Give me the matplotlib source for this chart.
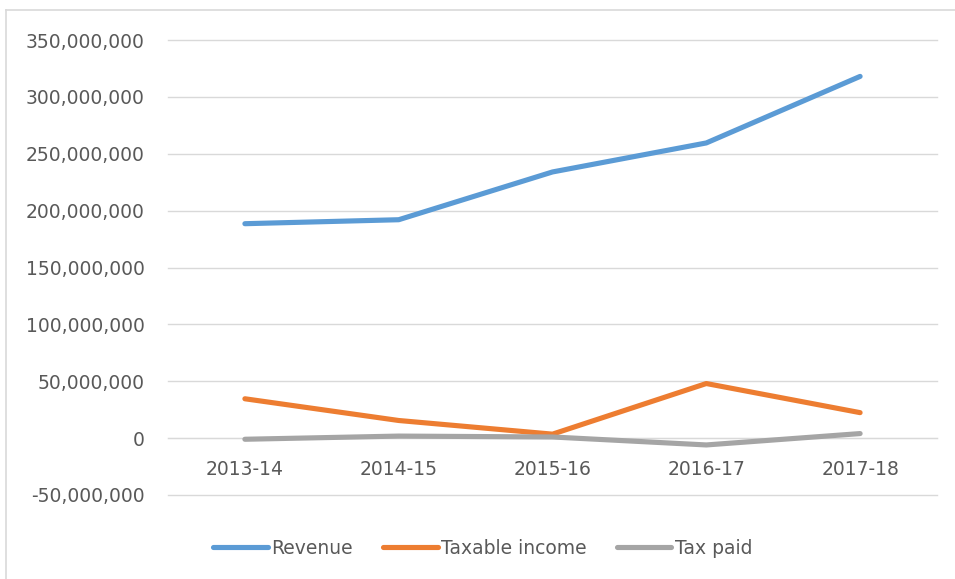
import matplotlib.pyplot as plt
from matplotlib.lines import Line2D
from matplotlib.ticker import FuncFormatter, MultipleLocator

# Values
years = ["2013-14", "2014-15", "2015-16", "2016-17", "2017-18"]
revenue = [188_500_000, 192_000_000, 234_000_000, 259_500_000, 318_000_000]
taxable_income = [34_600_000, 15_500_000, 3_500_000, 48_000_000, 22_400_000]
tax_paid = [-1_000_000, 1_800_000, 1_000_000, -6_000_000, 4_000_000]

series = [
    ("Revenue", revenue, "#5B9BD5"),
    ("Taxable income", taxable_income, "#ED7D31"),
    ("Tax paid", tax_paid, "#A5A5A5"),
]

text_color = "#595959"
grid_color = "#D9D9D9"
plt.rcParams["font.family"] = ["DejaVu Sans"]

fig = plt.figure(figsize=(9.55, 5.79), dpi=100)
ax = fig.add_axes([168 / 955, 1 - 495 / 579, (937 - 168) / 955, (495 - 40) / 579])

x = list(range(len(years)))
for name, vals, c in series:
    ax.plot(x, vals, color=c, lw=3.7, label=name,
            solid_capstyle="round", solid_joinstyle="round", zorder=3)

ax.set_xlim(-0.5, len(years) - 0.5)
ax.set_ylim(-50_000_000, 350_000_000)
ax.yaxis.set_major_locator(MultipleLocator(50_000_000))
ax.yaxis.set_major_formatter(FuncFormatter(lambda v, p: f"{v:,.0f}"))
ax.grid(axis="y", color=grid_color, lw=1.0, zorder=0)
for gl in ax.get_ygridlines():
    gl.set_clip_on(False)

# category axis sits on the zero line, as in the spreadsheet chart
ax.spines["bottom"].set_position(("data", 0))
ax.spines["bottom"].set_color(grid_color)
for s in ["top", "right", "left"]:
    ax.spines[s].set_visible(False)
ax.set_xticks(x)
ax.set_xticklabels(years)
ax.tick_params(axis="x", length=0, pad=16, labelsize=13.5, labelcolor=text_color)
ax.tick_params(axis="y", length=0, pad=17, labelsize=13.5, labelcolor=text_color)

handles = [Line2D([], [], color=c, lw=3.7, solid_capstyle="round") for _, _, c in series]
fig.legend(handles, [s[0] for s in series], loc="center", ncol=3,
           bbox_to_anchor=(483 / 955, 1 - 548 / 579), frameon=False,
           fontsize=13.5, labelcolor=text_color, handlelength=2.9,
           handletextpad=0.2, columnspacing=1.6)

# light chart-area border (only top and left edges visible in the crop)
fig.add_artist(Line2D([6 / 955, 6 / 955], [0, 1 - 10 / 579],
                      transform=fig.transFigure, color=grid_color, lw=1.2))
fig.add_artist(Line2D([6 / 955, 1], [1 - 10 / 579, 1 - 10 / 579],
                      transform=fig.transFigure, color=grid_color, lw=1.2))

fig.savefig("out.png", dpi=100)
